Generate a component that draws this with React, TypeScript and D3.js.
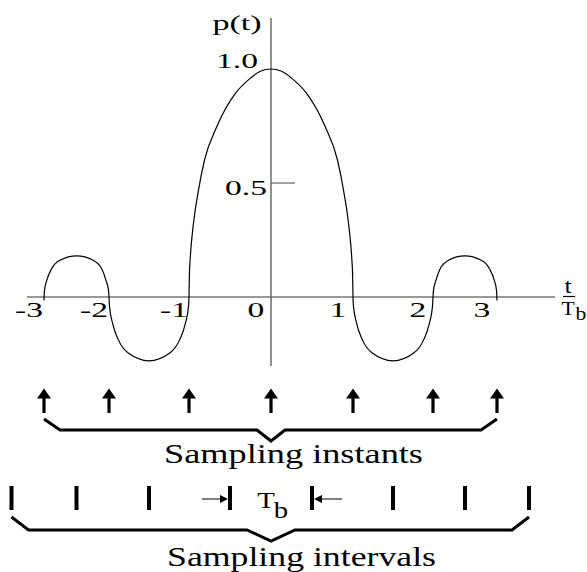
import React, { useEffect, useRef } from "react";
import * as d3 from "d3";

// sample instants (in units of Tb) and the interval edges between them
const sampleTimes = [-3, -2, -1, 0, 1, 2, 3];
const intervalEdges = [-3.5, -2.5, -1.5, -0.5, 0.5, 1.5, 2.5, 3.5];
const xTickLabels = ["-3", "-2", "-1", "0", "1", "2", "3"];
const yTicks = [0.5, 1.0];
const yTickLabels = ["0.5", "1.0"];

// p(t), lobe by lobe
const pulseT = [
    -3, -2.992, -2.958, -2.882, -2.754, -2.497, -2.242, -2.112, -2.046, -2.008, -2,
    -1.994, -1.954, -1.884, -1.759, -1.5, -1.241, -1.116, -1.046, -1.006, -1,
    -0.995, -0.986, -0.95, -0.89, -0.81, -0.66, -0.43, -0.25, -0.13, 0,
    0.13, 0.25, 0.43, 0.66, 0.81, 0.89, 0.95, 0.986, 0.995, 1,
    1.006, 1.046, 1.116, 1.241, 1.5, 1.759, 1.884, 1.954, 1.994, 2,
    2.008, 2.046, 2.112, 2.242, 2.497, 2.754, 2.882, 2.958, 2.992, 3
];
const pulseP = [
    -0.015, 0.03, 0.073, 0.124, 0.161, 0.18, 0.161, 0.124, 0.073, 0.03, 0,
    -0.04, -0.117, -0.187, -0.246, -0.28, -0.246, -0.187, -0.117, -0.04, 0,
    0.1, 0.164, 0.31, 0.457, 0.602, 0.748, 0.895, 0.96, 0.99, 1.0,
    0.99, 0.96, 0.895, 0.748, 0.602, 0.457, 0.31, 0.164, 0.1, 0,
    -0.04, -0.117, -0.187, -0.246, -0.28, -0.246, -0.187, -0.117, -0.04, 0,
    0.03, 0.073, 0.124, 0.161, 0.18, 0.161, 0.124, 0.073, 0.03, -0.015
];

const FONT = "Liberation Serif";

const PulseChart = () => {
    const svgRef = useRef(null);
    const width = 587;
    const height = 572;

    useEffect(() => {
        const svg = d3.select(svgRef.current);
        svg.selectAll("*").remove();

        // the sketch spaces the zero crossings unevenly, so piecewise scale
        const x = d3.scaleLinear()
            .domain(sampleTimes)
            .range([44, 109, 189, 271, 353, 433, 497]);
        const y = d3.scaleLinear().domain([0, 1]).range([297, 69]);

        const text = (str, tx, ty, size, sx, anchor = "middle") =>
            svg.append("text")
                .attr("transform", `translate(${tx},${ty}) scale(${sx},1)`)
                .attr("text-anchor", anchor)
                .style("font-family", FONT)
                .attr("font-size", size)
                .attr("fill", "#000")
                .text(str);

        // axes
        svg.append("line")
            .attr("x1", 27).attr("x2", 555)
            .attr("y1", y(0)).attr("y2", y(0))
            .attr("stroke", "#777").attr("stroke-width", 1.5);
        svg.append("line")
            .attr("x1", x(0)).attr("x2", x(0))
            .attr("y1", 18).attr("y2", 366)
            .attr("stroke", "#555").attr("stroke-width", 1.3);
        svg.append("line")
            .attr("x1", x(0)).attr("x2", x(0) + 24)
            .attr("y1", y(0.5)).attr("y2", y(0.5))
            .attr("stroke", "#666").attr("stroke-width", 1.2);

        // pulse
        const pts = pulseT.map((t, i) => [t, pulseP[i]]);
        const line = d3.line()
            .x(d => x(d[0]))
            .y(d => y(d[1]))
            .curve(d3.curveMonotoneX);
        svg.append("path")
            .attr("d", line(pts))
            .attr("fill", "none")
            .attr("stroke", "#000")
            .attr("stroke-width", 1.2);

        // tick labels
        sampleTimes.forEach((t, i) => {
            text(xTickLabels[i], x(t) - 15, 317, 21, 1.6);
        });
        text(yTickLabels[1], x(0) - 34, y(yTicks[1]) - 1, 21, 1.6);
        text(yTickLabels[0], x(0) - 25, y(yTicks[0]) + 12, 21, 1.6);
        text("p(t)", 237, 30, 22, 1.55);

        // t / Tb at the end of the x axis
        text("t", 568, 293, 20, 1.3);
        svg.append("line")
            .attr("x1", 563).attr("x2", 575)
            .attr("y1", 296.5).attr("y2", 296.5)
            .attr("stroke", "#000").attr("stroke-width", 1.2);
        text("T", 568, 315, 18, 1.2);
        text("b", 581, 320, 18, 1.2);

        // sampling instants
        sampleTimes.forEach(t => {
            svg.append("line")
                .attr("x1", x(t)).attr("x2", x(t))
                .attr("y1", 413).attr("y2", 396)
                .attr("stroke", "#000").attr("stroke-width", 3.2);
            svg.append("path")
                .attr("d", `M${x(t)},388.5L${x(t) - 7},398.5L${x(t) + 7},398.5Z`)
                .attr("fill", "#000");
        });

        const brace = d3.line();
        const first = x(sampleTimes[0]);
        const last = x(sampleTimes[sampleTimes.length - 1]);
        svg.append("path")
            .attr("d", brace([
                [first, 419], [first + 16, 430], [x(0) - 14, 430], [x(0), 441],
                [x(0) + 14, 430], [last - 16, 430], [last, 419]
            ]))
            .attr("fill", "none").attr("stroke", "#000").attr("stroke-width", 3);
        svg.append("text")
            .attr("x", 293.5).attr("y", 463)
            .attr("text-anchor", "middle")
            .style("font-family", FONT).attr("font-size", 27)
            .attr("textLength", 259).attr("lengthAdjust", "spacingAndGlyphs")
            .text("Sampling instants");

        // sampling intervals
        intervalEdges.forEach(t => {
            svg.append("line")
                .attr("x1", x(t)).attr("x2", x(t))
                .attr("y1", 486).attr("y2", 510)
                .attr("stroke", "#000").attr("stroke-width", 4);
        });
        const lo = x(-0.5);
        const hi = x(0.5);
        svg.append("line")
            .attr("x1", lo - 28).attr("x2", lo - 6)
            .attr("y1", 499).attr("y2", 499)
            .attr("stroke", "#000").attr("stroke-width", 1);
        svg.append("path")
            .attr("d", `M${lo - 2},499L${lo - 10},495L${lo - 10},503Z`)
            .attr("fill", "#000");
        svg.append("line")
            .attr("x1", hi + 6).attr("x2", hi + 30)
            .attr("y1", 499).attr("y2", 499)
            .attr("stroke", "#000").attr("stroke-width", 1);
        svg.append("path")
            .attr("d", `M${hi + 2},499L${hi + 10},495L${hi + 10},503Z`)
            .attr("fill", "#000");
        text("T", 266, 508, 24, 1.2);
        text("b", 281, 518, 24, 1.2);

        const left = x(intervalEdges[0]);
        const right = x(intervalEdges[intervalEdges.length - 1]);
        svg.append("path")
            .attr("d", brace([
                [left, 517], [left + 17, 530], [x(0) - 24, 530], [x(0), 541],
                [x(0) + 24, 530], [right - 17, 530], [right, 517]
            ]))
            .attr("fill", "none").attr("stroke", "#000").attr("stroke-width", 3);
        svg.append("text")
            .attr("x", 301.5).attr("y", 566)
            .attr("text-anchor", "middle")
            .style("font-family", FONT).attr("font-size", 27)
            .attr("textLength", 269).attr("lengthAdjust", "spacingAndGlyphs")
            .text("Sampling intervals");
    }, []);

    return (
        <svg
            ref={svgRef}
            width={width}
            height={height}
            style={{ position: "absolute", left: 0, top: 0, background: "#fff" }}
        />
    );
};

export default function App() {
    return <PulseChart />;
}
